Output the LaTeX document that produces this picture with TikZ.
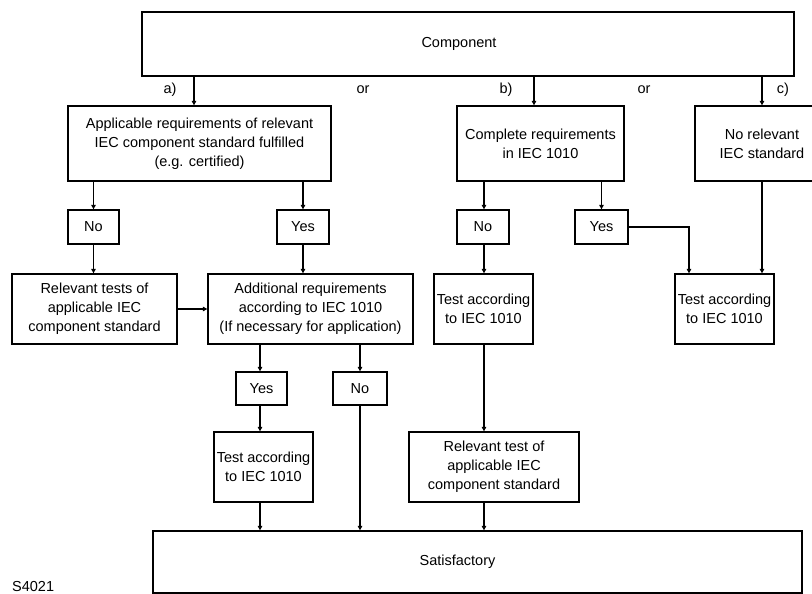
\documentclass[tikz,border=0pt]{standalone}
\usepackage{fontspec}
\setmainfont{Liberation Sans}
\usetikzlibrary{arrows.meta}
\begin{document}
\begin{tikzpicture}[x=1pt,y=-1pt,
  box/.style={draw, line width=1.3pt, rectangle, align=center, inner sep=1pt,
    font=\fontsize{14.5}{19}\selectfont},
  arr/.style={line width=1.3pt, -{Triangle[length=4.5pt,width=4.5pt]}},
  lbl/.style={font=\fontsize{14.5}{19}\selectfont, inner sep=0pt}]
\useasboundingbox (0,0) rectangle (812,594);
\clip (0,0) rectangle (812,594);
\fill[white] (0,0) rectangle (812,594);
% row 1
\node[box, minimum width=652pt, minimum height=64pt] (comp) at (468,44) {Component\hspace*{18pt}};
\node[box, minimum width=263pt, minimum height=75pt] (app) at (199.5,143.5)
  {Applicable requirements of relevant\\IEC component standard fulfilled\\(e.g. certified)};
\node[box, minimum width=167pt, minimum height=75pt] (cmp) at (540.5,143.5)
  {Complete requirements\\in IEC 1010};
\node[box, minimum width=134pt, minimum height=75pt] (norel) at (762,143.5)
  {No relevant\\IEC standard};
% row 2
\node[box, minimum width=51pt, minimum height=34pt] (no1) at (93.5,227) {No};
\node[box, minimum width=52pt, minimum height=34pt] (yes1) at (303,227) {Yes};
\node[box, minimum width=52pt, minimum height=34pt] (no2) at (483,227) {No};
\node[box, minimum width=53pt, minimum height=34pt] (yes2) at (601.5,227) {Yes};
% row 3
\node[box, minimum width=165pt, minimum height=70pt] (reltests) at (94.5,309)
  {Relevant tests of\\applicable IEC\\component standard};
\node[box, minimum width=205pt, minimum height=70pt] (addl) at (310.5,309)
  {Additional requirements\\according to IEC 1010\\(If necessary for application)};
\node[box, minimum width=99pt, minimum height=70pt] (testb) at (483.5,309)
  {Test according\\to IEC 1010};
\node[box, minimum width=99pt, minimum height=70pt] (testc) at (724.5,309)
  {Test according\\to IEC 1010};
% row 4
\node[box, minimum width=51pt, minimum height=33pt] (yes3) at (261.5,388.5) {Yes};
\node[box, minimum width=54pt, minimum height=33pt] (no3) at (360,388.5) {No};
\node[box, minimum width=99pt, minimum height=70pt] (testa) at (263.5,467)
  {Test according\\to IEC 1010};
\node[box, minimum width=170pt, minimum height=70pt] (reltest) at (494,467)
  {Relevant test of\\applicable IEC\\component standard};
\node[box, minimum width=649pt, minimum height=62pt] (sat) at (477.5,562) {Satisfactory\hspace*{40pt}};
% labels
\node[lbl] (la) at (170,90) {a)};
\node[lbl] (or1) at (363,90) {or};
\node[lbl] (lb) at (506,90) {b)};
\node[lbl] (or2) at (644,90) {or};
\node[lbl] (lc) at (783,90) {c)};
\node[lbl, anchor=west] (code) at (12,587) {S4021};
% helper coordinates
\coordinate (xa) at (194,0);
\coordinate (xb) at (534,0);
\coordinate (xy) at (689,0);
\coordinate (xl) at (260,0);
\coordinate (xr) at (360,0);
\coordinate (xm) at (484,0);
% connectors
\draw[arr] (xa |- comp.south) -- (xa |- app.north);
\draw[arr] (xb |- comp.south) -- (xb |- cmp.north);
\draw[arr] (norel |- comp.south) -- (norel.north);
\draw[arr] (no1 |- app.south) -- (no1.north);
\draw[arr] (yes1 |- app.south) -- (yes1.north);
\draw[arr] (xm |- cmp.south) -- (xm |- no2.north);
\draw[arr] (yes2 |- cmp.south) -- (yes2.north);
\draw[arr] (no1.south) -- (no1 |- reltests.north);
\draw[arr] (reltests.east) -- (addl.west);
\draw[arr] (yes1.south) -- (yes1 |- addl.north);
\draw[arr] (xm |- no2.south) -- (xm |- testb.north);
\draw[arr] (yes2.east) -| (xy |- testc.north);
\draw[arr] (norel.south) -- (norel |- testc.north);
\draw[arr] (xl |- addl.south) -- (xl |- yes3.north);
\draw[arr] (xr |- addl.south) -- (xr |- no3.north);
\draw[arr] (xl |- yes3.south) -- (xl |- testa.north);
\draw[arr] (xl |- testa.south) -- (xl |- sat.north);
\draw[arr] (xr |- no3.south) -- (xr |- sat.north);
\draw[arr] (xm |- testb.south) -- (xm |- reltest.north);
\draw[arr] (xm |- reltest.south) -- (xm |- sat.north);
\end{tikzpicture}
\end{document}
